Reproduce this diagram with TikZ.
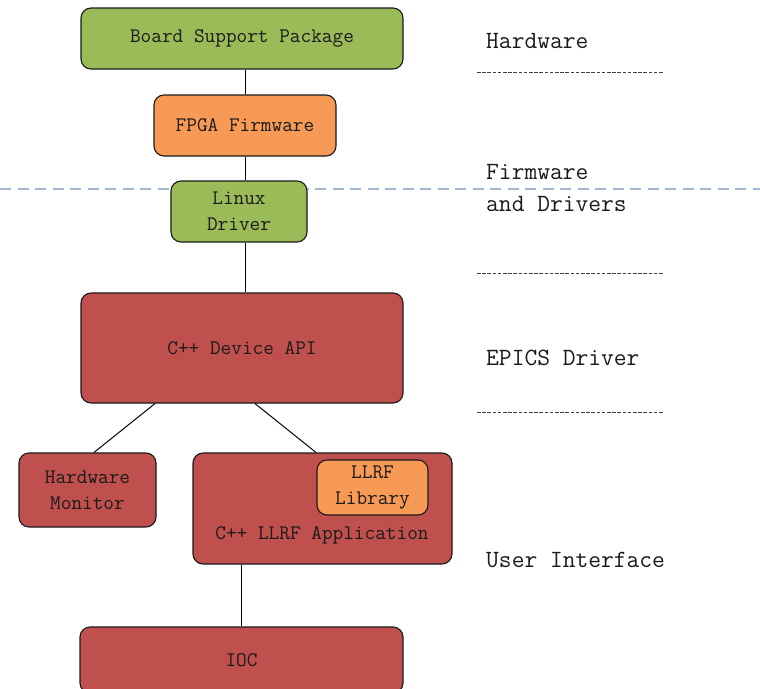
\documentclass[tikz,border=0pt]{standalone}
\usetikzlibrary{calc}
\definecolor{bgreen}{HTML}{9BBB59}
\definecolor{borange}{HTML}{F79A55}
\definecolor{bred}{HTML}{C0504D}
\definecolor{sepblue}{HTML}{A2B8D0}
\definecolor{txt}{HTML}{1A1A1A}
\tikzset{
  blk/.style={draw=black!90, line width=1.1pt, rounded corners=10pt, inner sep=0pt,
    font=\fontsize{20.7}{26}\ttfamily, text=txt, align=center},
  grn/.style={blk, fill=bgreen},
  org/.style={blk, fill=borange},
  rd/.style={blk, fill=bred},
  conn/.style={line width=1pt, black},
  lay/.style={anchor=west, inner sep=0pt, font=\fontsize{24.8}{32}\ttfamily, text=txt, align=left},
  laysep/.style={line width=0.6pt, black!75, dash pattern=on 3.5pt off 1.7pt},
}
\begin{document}
\begin{tikzpicture}[x=1pt,y=-1pt]
\useasboundingbox (0,0) rectangle (760,688);
\clip (0,0) rectangle (760,688);
% layer separator
\draw[sepblue, line width=2.6pt, dash pattern=on 11pt off 6.5pt] (0,189) -- (760,189);
% boxes
\node[grn, minimum width=322pt, minimum height=61pt] (bsp) at (242,38.5) {Board Support Package};
\node[org, minimum width=182pt, minimum height=61pt] (fpga) at (245,125.5) {FPGA Firmware};
\node[grn, minimum width=136pt, minimum height=61pt] (linux) at (239,211.5) {Linux\\Driver};
\node[rd, minimum width=322pt, minimum height=110pt] (api) at (242,348) {C++ Device API};
\node[rd, minimum width=137pt, minimum height=74pt] (hwm) at (87.5,490) {Hardware\\Monitor};
\node[rd, minimum width=259pt, minimum height=111pt] (app) at (322.5,508.5) {};
\node[blk, draw=none, fill=none] (applbl) at (322,535) {C++ LLRF Application};
\node[org, minimum width=111pt, minimum height=55pt] (lib) at (372.5,487.5) {LLRF\\Library};
\node[rd, minimum width=323pt, minimum height=66pt] (ioc) at (241.5,660) {IOC};
% connectors
\draw[conn] (fpga.north) -- (fpga.north |- bsp.south);
\draw[conn] (fpga.south) -- (fpga.south |- linux.north);
\draw[conn] (linux.south -| fpga.south) -- (api.north -| fpga.south);
\draw[conn] ($(api.south)+(-87,0)$) -- ($(hwm.north)+(6.5,0)$);
\draw[conn] ($(api.south)+(13,0)$) -- ($(app.north)+(-6.5,0)$);
\draw[conn] (ioc.north) -- (ioc.north |- app.south);
% layer labels
\node[lay] (lhw) at (486,41) {Hardware};
\draw[laysep] (477,72) -- (664,72);
\node[lay] (lfw) at (486,172) {Firmware};
\node[lay] (ldr) at (486,204) {and Drivers};
\draw[laysep] (477,273) -- (664,273);
\node[lay] (lep) at (486,358) {EPICS Driver};
\draw[laysep] (477,412) -- (664,412);
\node[lay] (lui) at (486,560) {User Interface};
\end{tikzpicture}
\end{document}
